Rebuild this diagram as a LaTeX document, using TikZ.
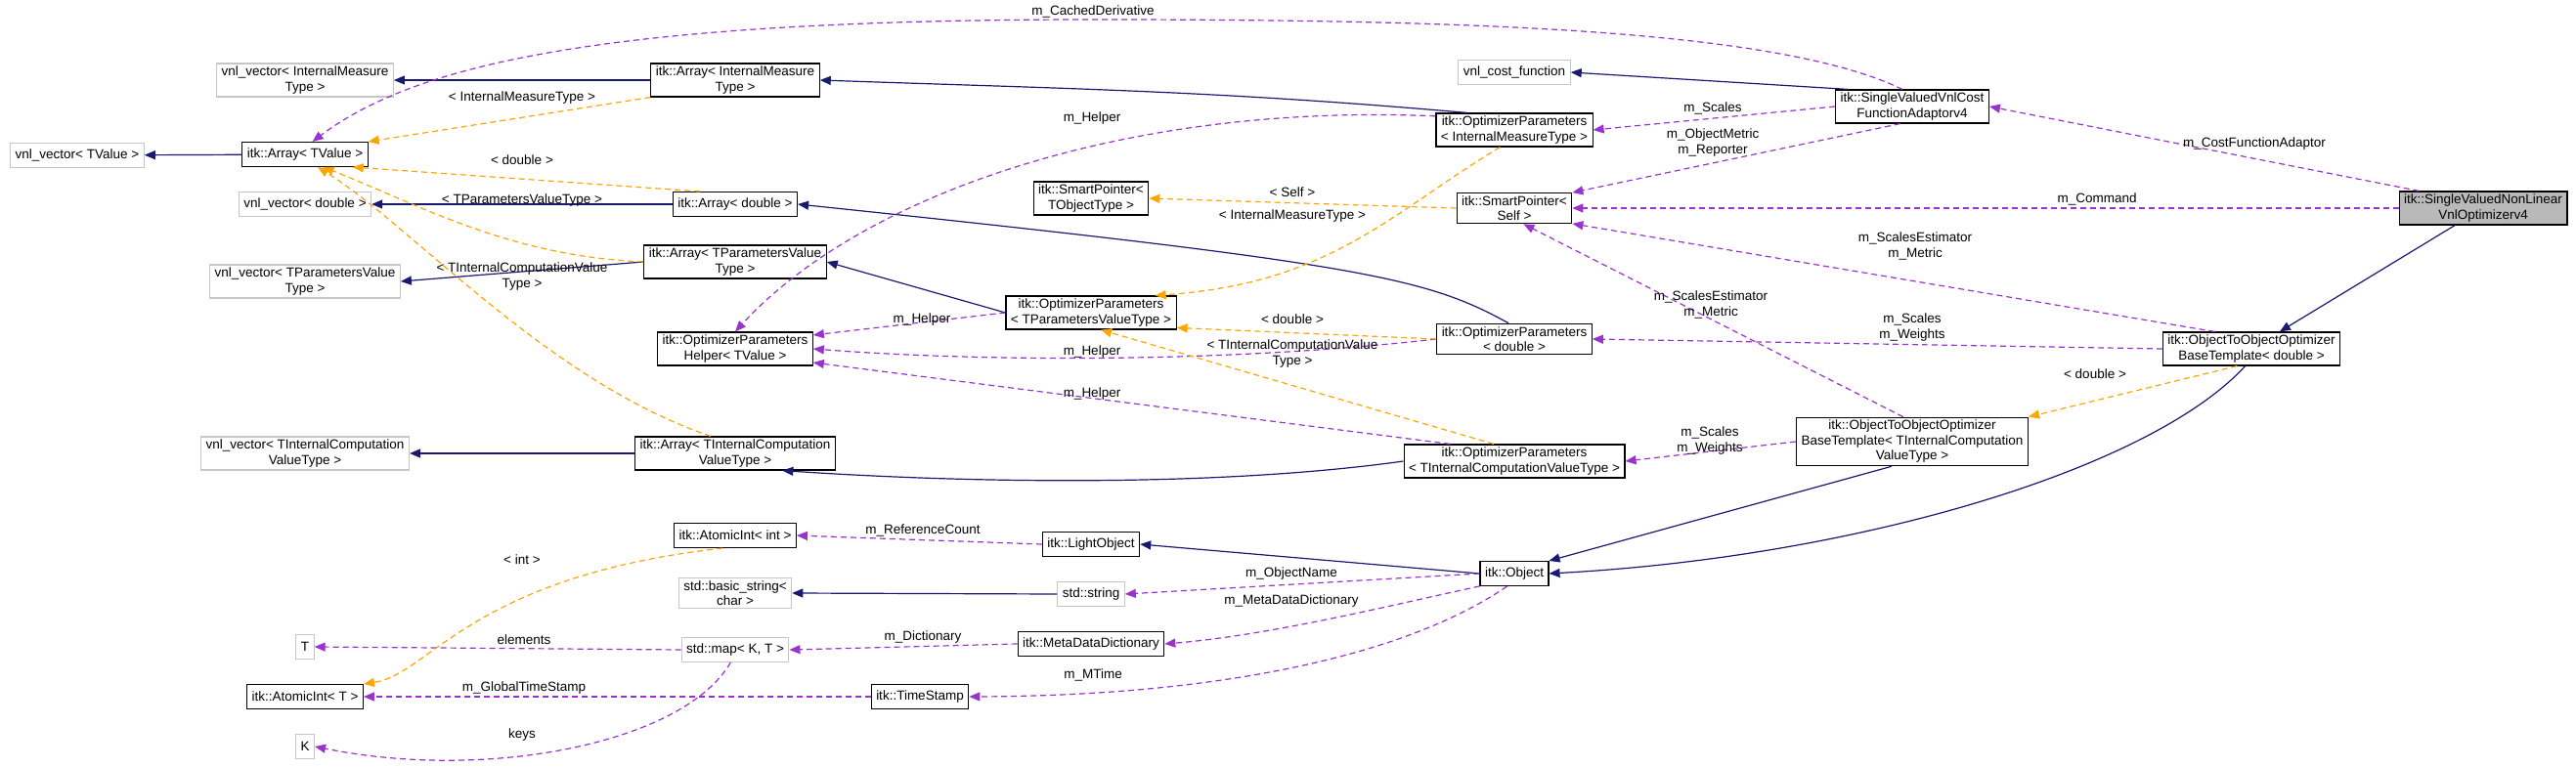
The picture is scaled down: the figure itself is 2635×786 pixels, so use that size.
\documentclass[tikz,border=0pt]{standalone}
\usepackage{fontspec}
\setmainfont{Liberation Sans}
\usetikzlibrary{arrows.meta}
\definecolor{navy}{RGB}{25,25,112}
\definecolor{purp}{RGB}{154,50,205}
\definecolor{orng}{RGB}{255,165,0}
\newcommand{\dxfont}{\fontsize{13.5}{15.5}\selectfont}
\tikzset{
  cls/.style={draw=black, line width=1.1pt, fill=white, align=center, font=\dxfont,
    inner xsep=5pt, inner ysep=3pt, minimum height=25pt},
  ext/.style={cls, draw=gray!45},
  cur/.style={cls, fill=gray!55},
  tip/.style={-{Triangle[length=11pt,width=9pt]}},
  inh/.style={tip, navy, line width=1.2pt},
  use/.style={tip, purp, line width=1.2pt, dash pattern=on 6pt off 4pt},
  tpl/.style={tip, orng, line width=1.2pt, dash pattern=on 6pt off 4pt},
  lbl/.style={font=\dxfont, align=center, inner sep=0pt}
}
\begin{document}
\begin{tikzpicture}[x=1pt,y=-1pt]
  \useasboundingbox (0,0) rectangle (2635,786);
  % classes, left column
  \node[ext] (vvT)  at (79,159)  {vnl\_vector< TValue >};
  \node[ext] (vvIM) at (312,82)  {vnl\_vector< InternalMeasure\\Type >};
  \node[cls] (aT)   at (312,158) {itk::Array< TValue >};
  \node[ext] (vvD)  at (312,209) {vnl\_vector< double >};
  \node[ext] (vvTP) at (312,288) {vnl\_vector< TParametersValue\\Type >};
  \node[ext] (vvTI) at (312,464) {vnl\_vector< TInternalComputation\\ValueType >};
  \node[ext] (T)    at (312,662) {T};
  \node[cls] (aiT)  at (312,713) {itk::AtomicInt< T >};
  \node[ext] (K)    at (312,764) {K};
  % arrays and helpers
  \node[cls] (aIM)    at (752,82)  {itk::Array< InternalMeasure\\Type >};
  \node[cls] (aD)     at (752,209) {itk::Array< double >};
  \node[cls] (aTP)    at (752,268) {itk::Array< TParametersValue\\Type >};
  \node[cls] (helper) at (752,357) {itk::OptimizerParameters\\Helper< TValue >};
  \node[cls] (aTI)    at (752,464) {itk::Array< TInternalComputation\\ValueType >};
  \node[cls] (aiInt)  at (752,548) {itk::AtomicInt< int >};
  \node[ext] (bstr)   at (752,607) {std::basic\_string<\\char >};
  \node[ext] (smap)   at (752,665) {std::map< K, T >};
  \node[cls] (ts)     at (941,713) {itk::TimeStamp};
  % middle
  \node[cls] (spT)  at (1116,203) {itk::SmartPointer<\\TObjectType >};
  \node[cls] (opTP) at (1116,320) {itk::OptimizerParameters\\< TParametersValueType >};
  \node[cls] (lo)   at (1116,557) {itk::LightObject};
  \node[ext] (str)  at (1116,608) {std::string};
  \node[cls] (mdd)  at (1116,659) {itk::MetaDataDictionary};
  \node[ext] (vcf)   at (1549,74)  {vnl\_cost\_function};
  \node[cls] (opIM)  at (1549,133) {itk::OptimizerParameters\\< InternalMeasureType >};
  \node[cls] (spS)   at (1549,213) {itk::SmartPointer<\\Self >};
  \node[cls] (opD)   at (1549,347) {itk::OptimizerParameters\\< double >};
  \node[cls] (opTIC) at (1549,472) {itk::OptimizerParameters\\< TInternalComputationValueType >};
  \node[cls] (obj)   at (1549,587) {itk::Object};
  % right
  \node[cls] (svvc)   at (1956,109) {itk::SingleValuedVnlCost\\FunctionAdaptorv4};
  \node[cls] (otoTIC) at (1956,452) {itk::ObjectToObjectOptimizer\\BaseTemplate< TInternalComputation\\ValueType >};
  \node[cls] (otoD)   at (2303,357) {itk::ObjectToObjectOptimizer\\BaseTemplate< double >};
  \node[cur] (svnl)   at (2540,213) {itk::SingleValuedNonLinear\\VnlOptimizerv4};

  % inheritance
  \draw[inh] (aT) -- (vvT);
  \draw[inh] (aIM) -- (vvIM);
  \draw[inh] (aD) -- (vvD);
  \draw[inh] (aTP.west) -- (vvTP.east);
  \draw[inh] (aTI) -- (vvTI);
  \draw[inh] (opIM.160) to[out=175,in=-2] (aIM.east);
  \draw[inh] (opD.110) .. controls (1460,285) and (1400,270) .. (aD.east);
  \draw[inh] (opTP.west) -- (aTP.east);
  \draw[inh] (opTIC.west) .. controls (1250,498) and (1000,495) .. (aTI.-20);
  \draw[inh] (svvc.165) -- (vcf.east);
  \draw[inh] (svnl) -- (otoD);
  \draw[inh] (otoD.250) .. controls (2200,480) and (1900,570) .. (obj.east);
  \draw[inh] (otoTIC.230) -- (obj.north east);
  \draw[inh] (obj.west) -- (lo.east);
  \draw[inh] (str.west) -- (bstr.east);

  % members
  \draw[use] (svvc.120) .. controls (1820,30) and (1500,20) .. (1118,20)
    .. controls (600,20) and (420,70) .. (aT.60);
  \draw[use] (svvc.west) -- (opIM.east);
  \draw[use] (svvc.235) -- (spS.15);
  \draw[use] (svnl.165) -- (svvc.east);
  \draw[use] (svnl.west) -- (spS.east);
  \draw[use] (otoD.155) -- (spS.-15);
  \draw[use] (otoD.west) -- (opD.east);
  \draw[use] (otoTIC.110) -- (spS.-60);
  \draw[use] (otoTIC.west) -- (opTIC.east);
  \draw[use] (opIM.170) .. controls (1150,105) and (880,200) .. (helper.north);
  \draw[use] (opTP.west) -- (helper.10);
  \draw[use] (opD.west) .. controls (1250,372) and (1000,370) .. (helper.east);
  \draw[use] (opTIC.165) -- (helper.-10);
  \draw[use] (lo.west) -- (aiInt.east);
  \draw[use] (obj.west) -- (str.east);
  \draw[use] (obj.200) .. controls (1420,620) and (1300,650) .. (mdd.east);
  \draw[use] (obj.240) .. controls (1440,670) and (1250,712) .. (ts.east);
  \draw[use] (mdd.west) -- (smap.east);
  \draw[use] (smap.west) -- (T.east);
  \draw[use] (smap.250) .. controls (700,760) and (500,800) .. (K.east);
  \draw[use] (ts.west) -- (aiT.east);

  % template instances
  \draw[tpl] (aIM.south west) -- (aT.north east);
  \draw[tpl] (aD.160) -- (aT.-15);
  \draw[tpl] (aTP.west) .. controls (520,262) and (430,210) .. (aT.-35);
  \draw[tpl] (aTI.145) .. controls (560,390) and (420,230) .. (aT.-45);
  \draw[tpl] (spS.west) -- (spT.east);
  \draw[tpl] (opIM.230) .. controls (1420,220) and (1360,290) .. (opTP.15);
  \draw[tpl] (opD.west) -- (opTP.-10);
  \draw[tpl] (opTIC.140) -- (opTP.-60);
  \draw[tpl] (otoD.230) -- (otoTIC.north east);
  \draw[tpl] (aiInt.225) .. controls (480,590) and (440,690) .. (aiT.north east);

  % edge labels
  \node[lbl] (lCached) at (1118,12)  {m\_CachedDerivative};
  \node[lbl] (lAIM)    at (534,100)  {< InternalMeasureType >};
  \node[lbl] (lAD)     at (534,164)  {< double >};
  \node[lbl] (lATP)    at (534,205)  {< TParametersValueType >};
  \node[lbl] (lATI)    at (534,283)  {< TInternalComputationValue\\Type >};
  \node[lbl] (lHelpA)  at (1117,121) {m\_Helper};
  \node[lbl] (lScales) at (1752,111) {m\_Scales};
  \node[lbl] (lMetric) at (1752,146) {m\_ObjectMetric\\m\_Reporter};
  \node[lbl] (lSelf)   at (1322,197) {< Self >};
  \node[lbl] (lOpIM)   at (1322,221) {< InternalMeasureType >};
  \node[lbl] (lCost)   at (2306,147) {m\_CostFunctionAdaptor};
  \node[lbl] (lCmd)    at (2145,204) {m\_Command};
  \node[lbl] (lEstA)   at (1959,252) {m\_ScalesEstimator\\m\_Metric};
  \node[lbl] (lEstB)   at (1750,312) {m\_ScalesEstimator\\m\_Metric};
  \node[lbl] (lWgtA)   at (1956,335) {m\_Scales\\m\_Weights};
  \node[lbl] (lOtoD)   at (2143,383) {< double >};
  \node[lbl] (lHelpB)  at (943,327)  {m\_Helper};
  \node[lbl] (lOpD)    at (1322,327) {< double >};
  \node[lbl] (lHelpC)  at (1117,360) {m\_Helper};
  \node[lbl] (lOpTIC)  at (1322,362) {< TInternalComputationValue\\Type >};
  \node[lbl] (lHelpD)  at (1117,403) {m\_Helper};
  \node[lbl] (lWgtB)   at (1749,451) {m\_Scales\\m\_Weights};
  \node[lbl] (lRef)    at (944,543)  {m\_ReferenceCount};
  \node[lbl] (lInt)    at (534,573)  {< int >};
  \node[lbl] (lName)   at (1321,587) {m\_ObjectName};
  \node[lbl] (lMeta)   at (1321,615) {m\_MetaDataDictionary};
  \node[lbl] (lDict)   at (944,652)  {m\_Dictionary};
  \node[lbl] (lElem)   at (536,655)  {elements};
  \node[lbl] (lGlobal) at (536,704)  {m\_GlobalTimeStamp};
  \node[lbl] (lKeys)   at (534,752)  {keys};
  \node[lbl] (lMTime)  at (1118,691) {m\_MTime};
\end{tikzpicture}
\end{document}
